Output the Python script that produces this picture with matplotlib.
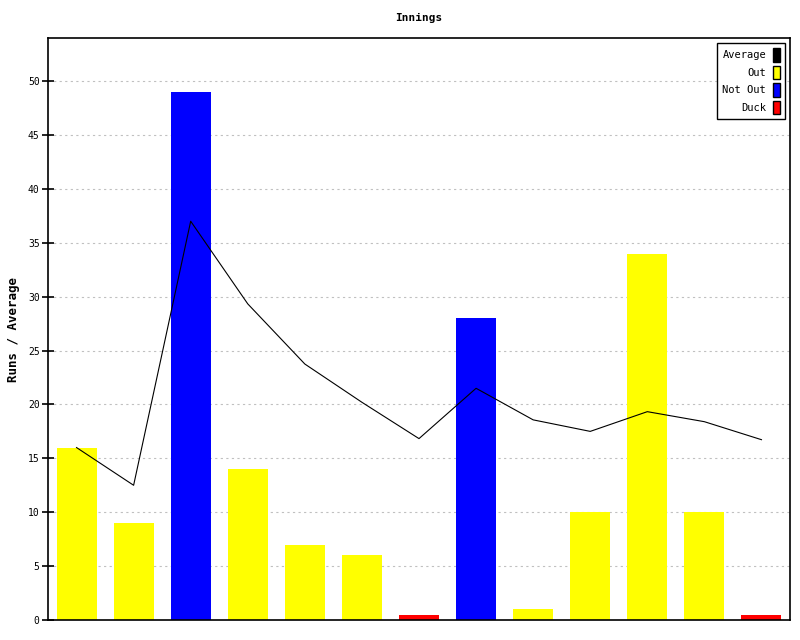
import matplotlib
matplotlib.use("Agg")
import matplotlib.pyplot as plt
from matplotlib.patches import Patch

innings = list(range(1, 14))
runs = [16, 9, 49, 14, 7, 6, 0.5, 28, 1, 10, 34, 10, 0.5]
status = ["Out", "Out", "Not Out", "Out", "Out", "Out", "Duck", "Not Out",
          "Out", "Out", "Out", "Out", "Duck"]
average = [16, 12.5, 37, 29.33, 23.75, 20.2, 16.83, 21.5, 18.57, 17.5, 19.33, 18.4, 16.73]
yticks = list(range(0, 55, 5))

colors = {"Out": "#ffff00", "Not Out": "#0000ff", "Duck": "#ff0000"}

plt.rcParams['font.family'] = ['DejaVu Sans Mono']
fig = plt.figure(figsize=(8, 6.4), dpi=100)
ax = fig.add_axes([48/800, 1-620/640, 742/800, 582/640])

x = list(range(len(innings)))
ax.bar(x, runs, width=0.70, color=[colors[s] for s in status], zorder=2)
ax.plot(x, average, color="black", lw=0.8, zorder=3)

ax.set_xlim(-0.5, len(innings) - 0.5)
ax.set_ylim(0, 54)
ax.set_yticks(yticks)
ax.set_yticklabels([str(t) for t in yticks], fontsize=7)
ax.set_xticks([])
ax.yaxis.grid(True, linestyle=(0, (2, 3)), color="#c0c0c0", lw=0.8, zorder=1)
ax.set_axisbelow(True)
ax.tick_params(axis='y', direction='inout', length=8, width=1.2, pad=2)
for s in ax.spines.values():
    s.set_linewidth(1.2)

ax.set_title("Innings", fontsize=8, fontweight='bold', pad=12)
ax.set_ylabel("Runs / Average", fontsize=9, fontweight='bold', labelpad=6)

handles = [Patch(facecolor="black", edgecolor="black"),
           Patch(facecolor=colors["Out"], edgecolor="black"),
           Patch(facecolor=colors["Not Out"], edgecolor="black"),
           Patch(facecolor=colors["Duck"], edgecolor="black")]
labels = ["Average", "Out", "Not Out", "Duck"]
leg = ax.legend(handles, labels, loc="upper right", markerfirst=False,
                fontsize=7.5, handlelength=0.7, handleheight=1.6,
                handletextpad=0.6, labelspacing=0.4, borderpad=0.5,
                borderaxespad=0, fancybox=False, framealpha=1, edgecolor="black",
                bbox_to_anchor=((785 - 48) / 742, (620 - 43) / 582))
leg.get_frame().set_linewidth(1.0)
for t in leg.get_texts():
    t.set_ha("right")

fig.savefig("out.png", dpi=100)
